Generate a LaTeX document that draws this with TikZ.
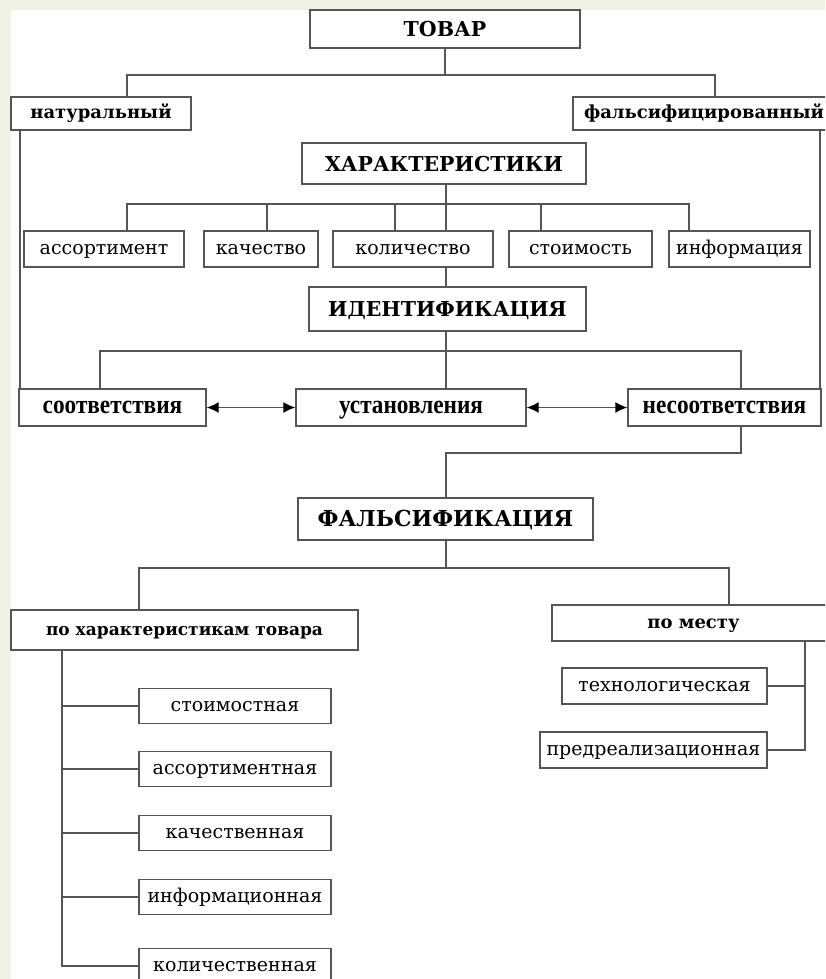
\documentclass[tikz,border=0pt]{standalone}
\usepackage{fontspec}
\usepackage{graphicx}
\setmainfont{DejaVu Serif}
\newfontfamily\condbold{Liberation Serif}
\newcommand\cbtext[1]{\scalebox{0.93}[1.05]{#1}}
\usetikzlibrary{arrows.meta}
\definecolor{bggreen}{HTML}{EEF3E3}
\definecolor{lncol}{HTML}{555555}
\tikzset{
  box/.style={draw=lncol, line width=1.4pt, fill=white, inner sep=0pt, anchor=center},
  big/.style={box, font=\fontsize{20.5}{22}\selectfont\bfseries, text height=15pt, text depth=0pt},
  mid/.style={box, font=\fontsize{18}{20}\selectfont\bfseries, text height=10pt, text depth=0pt},
  reg/.style={box, font=\fontsize{19}{21}\selectfont, text height=10pt, text depth=0pt},
  cond/.style={box, font=\condbold\fontsize{25}{27}\selectfont\bfseries, text height=12pt, text depth=0pt},
  ln/.style={draw=lncol, line width=1.4pt},
  dbl/.style={ln, {Latex[length=12pt,width=11pt,black]}-{Latex[length=12pt,width=11pt,black]}}
}
\begin{document}
\begin{tikzpicture}[x=1pt,y=-1pt]
\useasboundingbox (0,0) rectangle (825,979);
\clip (0,0) rectangle (825,979);
\fill[bggreen] (0,0) rectangle (825,979);
\fill[white] (11,10) rectangle (825,979);

% nodes
\node[big, minimum width=270, minimum height=38] (tovar) at (445,29) {ТОВАР};
\node[mid, minimum width=180, minimum height=33] (nat) at (101,113.5) {натуральный};
\node[mid, minimum width=262, minimum height=33] (fal) at (704,113.5) {фальсифицированный};
\node[big, minimum width=284, minimum height=41] (har) at (444,163.5) {ХАРАКТЕРИСТИКИ};
\node[reg, minimum width=160, minimum height=36] (asrt) at (104,249) {ассортимент};
\node[reg, minimum width=114, minimum height=36] (kach) at (261,249) {качество};
\node[reg, minimum width=160, minimum height=36] (kol) at (413,249) {количество};
\node[reg, minimum width=143, minimum height=36] (stoim) at (580.5,249) {стоимость};
\node[reg, minimum width=141, minimum height=36] (inf) at (739.5,249) {информация};
\node[big, minimum width=277, minimum height=44] (ident) at (447.5,309) {ИДЕНТИФИКАЦИЯ};
\node[cond, minimum width=187, minimum height=37] (soot) at (112.5,407.5) {\cbtext{соответствия}};
\node[cond, minimum width=230, minimum height=37] (ustan) at (411,407.5) {\cbtext{установления}};
\node[cond, minimum width=193, minimum height=37] (nesoot) at (724.5,407.5) {\cbtext{несоответствия}};
\node[big, font=\fontsize{22}{24}\selectfont\bfseries, minimum width=295, minimum height=42] (fals) at (445.5,519) {ФАЛЬСИФИКАЦИЯ};
\node[mid, font=\fontsize{17}{19}\selectfont\bfseries, minimum width=347, minimum height=40] (poh) at (184.5,630) {по характеристикам товара};
\node[mid, minimum width=283, minimum height=36] (pom) at (693.5,623) {по месту};
\node[reg, minimum width=205, minimum height=36] (tech) at (664.5,686) {технологическая};
\node[reg, minimum width=227, minimum height=36] (pred) at (653.5,750) {предреализационная};
\node[reg, minimum width=192, minimum height=35] (s1) at (235,706) {стоимостная};
\node[reg, minimum width=192, minimum height=35] (s2) at (235,769) {ассортиментная};
\node[reg, minimum width=192, minimum height=35] (s3) at (235,833) {качественная};
\node[reg, minimum width=192, minimum height=35] (s4) at (235,897) {информационная};
\node[reg, minimum width=192, minimum height=35] (s5) at (235,966) {количественная};

% junction coordinates
\coordinate (x127) at (127,0);
\coordinate (x715) at (715,0);
\coordinate (b1) at (445,75);
\coordinate (b2) at (446,204);
\coordinate (x267) at (267,0);
\coordinate (x395) at (395,0);
\coordinate (x541) at (541,0);
\coordinate (x689) at (689,0);
\coordinate (b3) at (446,351);
\coordinate (x100) at (100,0);
\coordinate (x741) at (741,0);
\coordinate (x20) at (20,0);
\coordinate (x820) at (820,0);
\coordinate (b4) at (446,453);
\coordinate (b5) at (446,568);
\coordinate (x139) at (139,0);
\coordinate (x729) at (729,0);
\coordinate (x62) at (62,0);
\coordinate (x805) at (805,0);

% connectors
\draw[ln] (tovar.south) -- (b1);
\draw[ln] (nat.north -| x127) |- (b1) -| (fal.north -| x715);

\draw[ln] (har.south -| b2) -- (kol.north -| b2);
\draw[ln] (asrt.north -| x127) |- (b2) -| (inf.north -| x689);
\draw[ln] (kach.north -| x267) -- (b2 -| x267);
\draw[ln] (kol.north -| x395) -- (b2 -| x395);
\draw[ln] (stoim.north -| x541) -- (b2 -| x541);
\draw[ln] (kol.south -| b2) -- (ident.north -| b2);

\draw[ln] (ident.south -| b3) -- (ustan.north -| b3);
\draw[ln] (soot.north -| x100) |- (b3) -| (nesoot.north -| x741);
\draw[ln] (nat.south -| x20) -- (soot.north -| x20);
\draw[ln] (fal.south -| x820) -- (nesoot.north -| x820);
\draw[dbl] (soot.east) -- (ustan.west);
\draw[dbl] (ustan.east) -- (nesoot.west);

\draw[ln] (nesoot.south -| x741) |- (b4) -- (fals.north -| b4);
\draw[ln] (fals.south -| b5) -- (b5);
\draw[ln] (poh.north -| x139) |- (b5) -| (pom.north -| x729);

\draw[ln] (poh.south -| x62) |- (s5.west);
\draw[ln] (s1.west) -- (s1.west -| x62);
\draw[ln] (s2.west) -- (s2.west -| x62);
\draw[ln] (s3.west) -- (s3.west -| x62);
\draw[ln] (s4.west) -- (s4.west -| x62);

\draw[ln] (pom.south -| x805) |- (pred.east);
\draw[ln] (tech.east) -- (tech.east -| x805);
\end{tikzpicture}
\end{document}
